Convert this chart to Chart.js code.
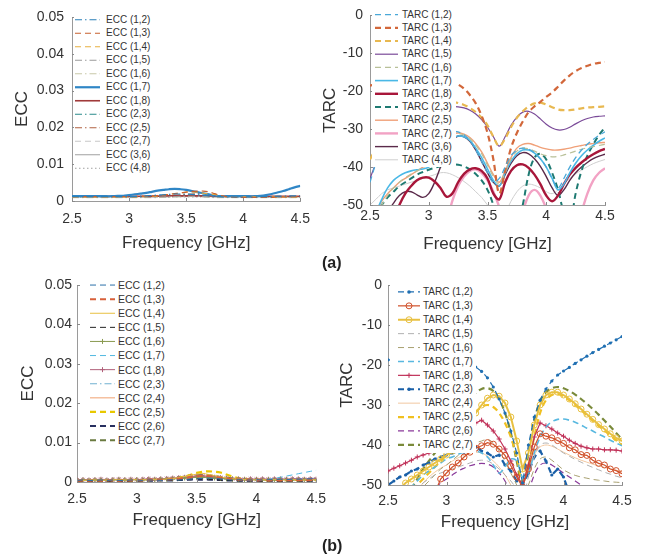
<!DOCTYPE html>
<html>
<head>
<meta charset="utf-8">
<script src="https://cdn.jsdelivr.net/npm/chart.js@4.4.1/dist/chart.umd.min.js"></script>
<style>
html, body { margin: 0; padding: 0; background: #fff; }
#wrap { position: relative; width: 649px; height: 559px; overflow: hidden; font-family: "Liberation Sans", Arial, sans-serif; }
canvas { position: absolute; }
.lg { position: absolute; background: #fff; z-index: 2; color: #333; }
.lg svg { position: absolute; left: 0; top: 0; }
.lg span { position: absolute; white-space: nowrap; }
.tag { position: absolute; font-weight: bold; font-size: 16px; color: #222; }
</style>
</head>
<body>
<div id="wrap">
  <canvas id="c1" width="320" height="262" style="left:0;top:0"></canvas>
  <canvas id="c2" width="334" height="262" style="left:315px;top:0"></canvas>
  <canvas id="c3" width="335" height="297" style="left:0;top:262px"></canvas>
  <canvas id="c4" width="319" height="297" style="left:330px;top:262px"></canvas>
  <div class="lg" id="lg1"></div>
  <div class="lg" id="lg2"></div>
  <div class="lg" id="lg3"></div>
  <div class="lg" id="lg4"></div>
  <div class="tag" style="left:322px;top:254px">(a)</div>
  <div class="tag" style="left:322px;top:537px">(b)</div>
</div>
<script>
// frequency grid (GHz)
const freq = [2.5,2.55,2.6,2.65,2.7,2.75,2.8,2.85,2.9,2.95,3,3.05,3.1,3.15,3.2,3.25,3.3,3.35,3.4,3.45,3.5,3.55,3.6,3.65,3.7,3.75,3.8,3.85,3.9,3.95,4,4.05,4.1,4.15,4.2,4.25,4.3,4.35,4.4,4.45,4.5];
const freqTicks = [2.5, 3, 3.5, 4, 4.5];
const eccTicks = [0, 0.01, 0.02, 0.03, 0.04, 0.05];
const tarcTicks = [-50, -40, -30, -20, -10, 0];

// (a) ECC
const eccALabels = ['ECC (1,2)','ECC (1,3)','ECC (1,4)','ECC (1,5)','ECC (1,6)','ECC (1,7)','ECC (1,8)','ECC (2,3)','ECC (2,5)','ECC (2,7)','ECC (3,6)','ECC (4,8)'];
const ea12 = [0.0012,0.0012,0.0012,0.0012,0.0012,0.0012,0.0012,0.0012,0.0012,0.0012,0.0012,0.0012,0.0013,0.0014,0.0015,0.0016,0.0017,0.0018,0.0019,0.0019,0.0019,0.0018,0.0017,0.0016,0.0014,0.0013,0.0012,0.0011,0.0011,0.0011,0.0011,0.0011,0.0011,0.0012,0.0012,0.0012,0.0013,0.0013,0.0014,0.0014,0.0015];
const ea13 = [0.0012,0.0012,0.0012,0.0012,0.0012,0.0012,0.0012,0.0012,0.0012,0.0012,0.0012,0.0012,0.0013,0.0013,0.0014,0.0015,0.0016,0.0018,0.002,0.0022,0.0024,0.0026,0.0027,0.0027,0.0025,0.002,0.0015,0.0012,0.0011,0.001,0.001,0.001,0.001,0.001,0.001,0.001,0.0011,0.0011,0.0011,0.0012,0.0012];
const ea14 = [0.0011,0.0011,0.0011,0.0011,0.0011,0.0011,0.0011,0.0011,0.0011,0.0011,0.0011,0.0011,0.0012,0.0012,0.0013,0.0014,0.0016,0.0018,0.002,0.0022,0.0024,0.0025,0.0024,0.0021,0.0019,0.0018,0.0014,0.0012,0.0011,0.0011,0.0011,0.0011,0.0011,0.0011,0.0011,0.0011,0.0011,0.0011,0.0011,0.0011,0.0011];
const ea15 = [0.001,0.001,0.001,0.001,0.001,0.001,0.001,0.001,0.001,0.001,0.001,0.001,0.001,0.001,0.001,0.0011,0.0011,0.0012,0.0012,0.0013,0.0013,0.0013,0.0013,0.0012,0.0011,0.001,0.001,0.001,0.001,0.001,0.001,0.001,0.001,0.001,0.001,0.001,0.001,0.001,0.001,0.001,0.001];
const ea16 = [0.0009,0.0009,0.0009,0.0009,0.0009,0.0009,0.0009,0.0009,0.0009,0.0009,0.0009,0.0009,0.0009,0.0009,0.0009,0.0009,0.001,0.001,0.0011,0.0011,0.0012,0.0012,0.0012,0.0011,0.001,0.0009,0.0009,0.0009,0.0009,0.0009,0.0009,0.0009,0.0009,0.0009,0.0009,0.0009,0.0009,0.0009,0.0009,0.0009,0.0009];
const ea17 = [0.0013,0.0013,0.0013,0.0013,0.0013,0.0013,0.0013,0.0013,0.0014,0.0014,0.0016,0.0018,0.002,0.0022,0.0025,0.0028,0.003,0.0032,0.0033,0.0032,0.003,0.0027,0.0024,0.0021,0.0018,0.0015,0.0013,0.0013,0.0013,0.0013,0.0013,0.0013,0.0013,0.0014,0.0016,0.0019,0.0023,0.0027,0.0032,0.0037,0.0041];
const ea18 = [0.0013,0.0013,0.0013,0.0013,0.0013,0.0013,0.0013,0.0013,0.0013,0.0013,0.0013,0.0013,0.0013,0.0013,0.0013,0.0013,0.0013,0.0014,0.0014,0.0014,0.0014,0.0014,0.0014,0.0014,0.0014,0.0013,0.0013,0.0013,0.0013,0.0013,0.0013,0.0013,0.0013,0.0013,0.0013,0.0013,0.0013,0.0013,0.0013,0.0013,0.0013];
const ea23 = [0.0011,0.0011,0.0011,0.0011,0.0011,0.0011,0.0011,0.0011,0.0011,0.0011,0.0011,0.0011,0.0011,0.0011,0.0012,0.0012,0.0013,0.0013,0.0014,0.0015,0.0016,0.0016,0.0016,0.0015,0.0014,0.0012,0.0011,0.0011,0.0011,0.0011,0.0011,0.0011,0.0011,0.0011,0.0011,0.0011,0.0011,0.0011,0.0011,0.0011,0.0011];
const ea25 = [0.0012,0.0012,0.0012,0.0012,0.0012,0.0012,0.0012,0.0012,0.0012,0.0012,0.0012,0.0012,0.0012,0.0012,0.0013,0.0013,0.0014,0.0015,0.0016,0.0017,0.0018,0.0019,0.002,0.002,0.0018,0.0015,0.0013,0.0012,0.0012,0.0012,0.0012,0.0012,0.0012,0.0012,0.0012,0.0012,0.0012,0.0012,0.0012,0.0012,0.0012];
const ea27 = [0.001,0.001,0.001,0.001,0.001,0.001,0.001,0.001,0.001,0.001,0.001,0.001,0.001,0.001,0.001,0.001,0.001,0.0011,0.0011,0.0012,0.0012,0.0012,0.0012,0.0011,0.0011,0.001,0.001,0.001,0.001,0.001,0.001,0.001,0.001,0.001,0.001,0.001,0.001,0.001,0.001,0.001,0.001];
const ea36 = [0.0011,0.0011,0.0011,0.0011,0.0011,0.0011,0.0011,0.0011,0.0011,0.0011,0.0011,0.0011,0.0012,0.0012,0.0013,0.0014,0.0015,0.0015,0.0015,0.0015,0.0014,0.0014,0.0013,0.0013,0.0012,0.0011,0.0011,0.0011,0.0011,0.0011,0.0011,0.0011,0.0011,0.0011,0.0011,0.0011,0.0011,0.0011,0.0011,0.0011,0.0011];
const ea48 = [0.001,0.001,0.001,0.001,0.001,0.001,0.001,0.001,0.001,0.001,0.001,0.001,0.001,0.001,0.001,0.001,0.001,0.001,0.0011,0.0011,0.0011,0.0011,0.0011,0.0011,0.0011,0.001,0.001,0.001,0.001,0.001,0.001,0.001,0.001,0.001,0.001,0.001,0.001,0.001,0.001,0.001,0.001];

// (a) TARC
const tarcALabels = ['TARC (1,2)','TARC (1,3)','TARC (1,4)','TARC (1,5)','TARC (1,6)','TARC (1,7)','TARC (1,8)','TARC (2,3)','TARC (2,5)','TARC (2,7)','TARC (3,6)','TARC (4,8)'];
const ta12 = [-44,-39,-35,-32.5,-30.8,-29.8,-29.2,-28.8,-28.6,-28.5,-28.6,-28.9,-29.4,-30,-30.5,-30.7,-31.5,-33,-35.5,-38.5,-41.5,-44,-43,-40,-37,-35.5,-35,-35.3,-36.2,-37.8,-40,-43,-45.5,-43,-40,-37.5,-35.5,-34,-32.7,-31.6,-30.7];
const ta13 = [-18.5,-18.2,-18,-17.8,-17.6,-17.5,-17.3,-17.2,-17.1,-17,-17,-17,-17,-17.2,-17.5,-18.2,-19.3,-21,-23.2,-26.5,-31,-38,-47,-41,-35,-31,-28,-25.5,-24,-22.8,-21.5,-20.3,-18.8,-17.2,-15.8,-14.7,-13.9,-13.3,-12.8,-12.5,-12.3];
const ta14 = [-38,-35,-32,-29.5,-27.5,-26,-25,-24.2,-23.6,-23.2,-23,-22.8,-22.7,-22.7,-22.8,-23.1,-23.6,-24.4,-25.5,-27,-29,-32,-34.5,-32.5,-29.5,-27,-25.3,-24,-23.2,-23,-23.5,-24.2,-24.8,-25,-25,-24.8,-24.5,-24.3,-24.2,-24.1,-24];
const ta15 = [-43,-39,-35.5,-32.5,-30.5,-29,-27.8,-26.8,-26,-25.4,-25,-24.6,-24.3,-24.1,-24,-24.1,-24.4,-25,-26,-27.5,-29.5,-32,-34.5,-32,-29,-26.8,-25.5,-25.3,-26,-27.3,-28.7,-29.7,-30.2,-30.1,-29.5,-28.6,-27.8,-27.2,-26.8,-26.6,-26.5];
const ta16 = [-55,-53,-50,-47.5,-45.5,-44,-42.8,-41.8,-41,-40.2,-39,-37,-34.8,-33,-31.8,-31.3,-31.5,-32.5,-34.2,-36.5,-39.5,-42.5,-44.5,-41.5,-38,-35.8,-35,-35.2,-35.8,-36.5,-37,-37.3,-37.2,-36.8,-36.3,-35.8,-35.3,-34.9,-34.6,-34.3,-34];
const ta17 = [-55,-52,-48.5,-45.5,-43.5,-42.3,-41.5,-41,-40.7,-40.5,-40,-38.5,-36,-33.8,-32.3,-31.8,-32,-33,-35,-37.5,-40.5,-43.5,-45,-41.5,-38.5,-36.5,-35.5,-35.5,-36.3,-37.8,-40,-43,-46,-44.5,-41.5,-39,-37,-35.5,-34.3,-33.2,-32.3];
const ta18 = [-60,-60,-60,-58,-54,-50,-47,-45,-43.5,-42.8,-42.8,-43.8,-45.5,-47.8,-47,-44,-41.8,-40.6,-40.3,-41,-43,-47,-48.5,-44,-41,-39.5,-39.3,-40.2,-42,-44.5,-47.5,-49,-47.5,-44.5,-42,-40.2,-38.8,-37.6,-36.6,-35.8,-35.2];
const ta23 = [-55,-52,-50,-48,-46.5,-45,-44,-43,-42,-41.3,-40.7,-40.2,-39.8,-39.5,-39.3,-39.4,-39.8,-40.6,-41.8,-43.5,-46,-50,-55,-58,-58,-56,-50,-42,-37.5,-36.5,-38,-41.5,-46,-52,-55,-47,-41,-37,-34,-31.5,-29.5];
const ta25 = [-55,-52,-49,-47,-45.5,-44,-43,-42,-41,-40,-39,-37,-34.5,-32.5,-31.3,-31,-31.3,-32.2,-33.8,-36,-39,-42,-44,-41,-37.5,-35,-34,-33.8,-34.2,-34.8,-35.2,-35.5,-35.5,-35.3,-35,-34.6,-34.3,-34,-33.8,-33.6,-33.5];
const ta27 = [-60,-60,-60,-60,-60,-60,-60,-60,-60,-60,-60,-60,-60,-55,-49,-45,-42.5,-41,-40.6,-41.5,-43.5,-46.5,-50.5,-55,-60,-60,-52,-47.5,-46,-47.5,-51,-56,-60,-60,-60,-58,-52,-47,-43.5,-41.5,-40.3];
const ta36 = [-60,-58,-55,-52,-49.5,-47.5,-46.5,-46.5,-47.3,-48,-47,-44,-40,-36,-33,-31.8,-32,-33.2,-35.5,-38.5,-41.5,-44,-45,-42,-39,-37,-36.2,-36.5,-37.8,-39.8,-42.5,-45.5,-47.5,-46,-43.5,-41.5,-40,-38.8,-37.8,-37.1,-36.6];
const ta48 = [-50,-48.5,-47,-46,-45.5,-45,-44.5,-44,-43.5,-43,-42.5,-42,-41.5,-41.5,-42,-42.8,-43.8,-45,-46.5,-48,-50,-52,-54,-52,-49,-46.5,-45,-44.5,-44.8,-45.5,-46.5,-47,-46,-44.5,-43,-41.8,-40.8,-39.9,-39.1,-38.5,-38];

// (b) ECC
const eccBLabels = ['ECC (1,2)','ECC (1,3)','ECC (1,4)','ECC (1,5)','ECC (1,6)','ECC (1,7)','ECC (1,8)','ECC (2,3)','ECC (2,4)','ECC (2,5)','ECC (2,6)','ECC (2,7)'];
const eb12 = [0.0004,0.0005,0.0004,0.0004,0.0005,0.0004,0.0005,0.0004,0.0004,0.0005,0.0005,0.0004,0.0005,0.0005,0.0004,0.0005,0.0006,0.0005,0.0006,0.0007,0.0008,0.0009,0.001,0.0009,0.0008,0.0006,0.0005,0.0006,0.0005,0.0005,0.0006,0.0005,0.0006,0.0006,0.0007,0.0006,0.0007,0.0007,0.0008,0.0008,0.0009];
const eb13 = [0.0003,0.0004,0.0003,0.0004,0.0003,0.0004,0.0004,0.0003,0.0004,0.0004,0.0005,0.0004,0.0005,0.0006,0.0005,0.0006,0.0007,0.0008,0.001,0.0012,0.0014,0.0016,0.0015,0.0013,0.0011,0.0009,0.0007,0.0006,0.0005,0.0005,0.0004,0.0005,0.0004,0.0005,0.0004,0.0005,0.0004,0.0005,0.0004,0.0005,0.0004];
const eb14 = [0.0005,0.0004,0.0005,0.0005,0.0004,0.0005,0.0005,0.0006,0.0005,0.0005,0.0006,0.0006,0.0005,0.0007,0.0006,0.0008,0.0009,0.0011,0.0014,0.0017,0.002,0.0022,0.0019,0.0016,0.0013,0.001,0.0008,0.0007,0.0006,0.0006,0.0005,0.0006,0.0005,0.0006,0.0005,0.0005,0.0006,0.0005,0.0005,0.0006,0.0005];
const eb15 = [0.0002,0.0003,0.0002,0.0003,0.0003,0.0002,0.0003,0.0003,0.0002,0.0003,0.0003,0.0003,0.0004,0.0003,0.0004,0.0004,0.0005,0.0005,0.0006,0.0007,0.0008,0.0008,0.0007,0.0006,0.0005,0.0004,0.0004,0.0003,0.0003,0.0003,0.0003,0.0002,0.0003,0.0003,0.0002,0.0003,0.0003,0.0003,0.0002,0.0003,0.0003];
const eb16 = [0.0004,0.0005,0.0004,0.0005,0.0005,0.0004,0.0005,0.0006,0.0005,0.0005,0.0006,0.0005,0.0006,0.0006,0.0007,0.0007,0.0008,0.0009,0.001,0.0011,0.0012,0.0012,0.0011,0.001,0.0009,0.0008,0.0007,0.0006,0.0006,0.0005,0.0006,0.0005,0.0006,0.0005,0.0006,0.0006,0.0005,0.0006,0.0006,0.0005,0.0006];
const eb17 = [0.0004,0.0004,0.0004,0.0005,0.0004,0.0004,0.0005,0.0004,0.0005,0.0005,0.0005,0.0005,0.0005,0.0006,0.0006,0.0006,0.0007,0.0008,0.0009,0.001,0.0011,0.0011,0.001,0.0009,0.0008,0.0007,0.0006,0.0006,0.0006,0.0006,0.0006,0.0006,0.0007,0.0009,0.0012,0.0015,0.0018,0.0021,0.0024,0.0027,0.003];
const eb18 = [0.0005,0.0006,0.0005,0.0006,0.0007,0.0005,0.0006,0.0007,0.0006,0.0007,0.0006,0.0007,0.0008,0.0007,0.0008,0.0009,0.001,0.0011,0.0012,0.0014,0.0015,0.0015,0.0014,0.0012,0.0011,0.001,0.0008,0.0008,0.0007,0.0008,0.0007,0.0008,0.0007,0.0008,0.0008,0.0007,0.0008,0.0008,0.0007,0.0008,0.0008];
const eb23 = [0.0005,0.0005,0.0006,0.0005,0.0005,0.0006,0.0005,0.0005,0.0006,0.0005,0.0006,0.0006,0.0006,0.0006,0.0007,0.0007,0.0008,0.0009,0.001,0.0011,0.0012,0.0012,0.0011,0.001,0.0009,0.0008,0.0007,0.0006,0.0006,0.0006,0.0006,0.0006,0.0006,0.0007,0.0007,0.0007,0.0008,0.0008,0.0009,0.0009,0.001];
const eb24 = [0.0006,0.0006,0.0006,0.0007,0.0006,0.0006,0.0007,0.0006,0.0006,0.0007,0.0007,0.0006,0.0007,0.0007,0.0008,0.0008,0.0009,0.001,0.0012,0.0014,0.0015,0.0016,0.0015,0.0013,0.0011,0.0009,0.0008,0.0007,0.0007,0.0006,0.0007,0.0006,0.0007,0.0007,0.0006,0.0007,0.0007,0.0006,0.0007,0.0007,0.0007];
const eb25 = [0.0004,0.0004,0.0005,0.0004,0.0004,0.0005,0.0004,0.0005,0.0005,0.0004,0.0005,0.0005,0.0006,0.0006,0.0007,0.0008,0.0009,0.0011,0.0014,0.0018,0.0023,0.0026,0.0027,0.0026,0.0024,0.0019,0.0014,0.001,0.0008,0.0007,0.0006,0.0006,0.0005,0.0006,0.0005,0.0005,0.0006,0.0005,0.0005,0.0006,0.0005];
const eb26 = [0.0002,0.0002,0.0003,0.0002,0.0002,0.0003,0.0002,0.0003,0.0002,0.0003,0.0003,0.0003,0.0003,0.0003,0.0004,0.0004,0.0004,0.0005,0.0005,0.0006,0.0006,0.0006,0.0006,0.0005,0.0005,0.0004,0.0004,0.0003,0.0003,0.0003,0.0003,0.0003,0.0003,0.0003,0.0003,0.0003,0.0003,0.0003,0.0003,0.0003,0.0003];
const eb27 = [0.0004,0.0004,0.0004,0.0005,0.0004,0.0004,0.0005,0.0005,0.0004,0.0005,0.0005,0.0005,0.0006,0.0006,0.0007,0.0008,0.0009,0.0011,0.0013,0.0015,0.0017,0.0018,0.0017,0.0015,0.0013,0.0011,0.0009,0.0007,0.0006,0.0006,0.0005,0.0005,0.0005,0.0005,0.0005,0.0005,0.0005,0.0005,0.0005,0.0005,0.0005];

// (b) TARC
const tarcBLabels = ['TARC (1,2)','TARC (1,3)','TARC (1,4)','TARC (1,5)','TARC (1,6)','TARC (1,7)','TARC (1,8)','TARC (2,3)','TARC (2,4)','TARC (2,5)','TARC (2,6)','TARC (2,7)'];
const tb12 = [-18.7,-18.8,-18.8,-18.9,-19,-19,-19.1,-19.2,-19.2,-19.3,-19.4,-19.5,-19.6,-19.7,-19.8,-20.5,-21.6,-23.2,-25.5,-28.5,-32,-36.5,-42,-49.5,-40,-33,-28.8,-26,-24,-22.5,-21.5,-20.6,-19.6,-18.7,-17.8,-16.9,-16.1,-15.3,-14.5,-13.7,-12.9];
const tb13 = [-62,-62,-62,-62,-62,-62,-62,-58,-52,-48.5,-47,-45.5,-44.5,-43,-41.8,-40.8,-40.2,-39.4,-39.8,-41,-42.6,-45.2,-48,-50.5,-46,-40.5,-37.2,-37.8,-38.2,-38.9,-39.6,-40.7,-41.2,-42.4,-42.6,-43.8,-44.6,-45,-46,-46.4,-47.2];
const tb14 = [-58,-55,-51,-49.5,-48.5,-47.5,-46.5,-45.5,-44.5,-43.5,-42.5,-41.5,-40,-38,-35,-32,-30,-28.3,-27.5,-27.8,-29.5,-33,-39,-46,-42,-35,-30,-27.5,-26.8,-26.8,-27.5,-28.5,-29.7,-31,-32.3,-33.6,-34.9,-36,-37.2,-38.2,-39];
const tb15 = [-62,-60,-57,-55,-53,-51,-49.5,-48.5,-47.5,-47,-46.5,-46,-45.5,-45,-44.5,-44,-43.8,-44,-44.8,-46,-47.5,-49,-51,-53,-48,-43,-40,-39.5,-40,-41,-42,-42.8,-43.6,-44.3,-45,-45.6,-46.2,-46.8,-47.3,-47.8,-48.2];
const tb16 = [-62,-60,-58,-56,-54,-52,-50.5,-49,-47.5,-46,-45,-43.8,-42.6,-41.5,-40.5,-39.5,-39,-38.6,-39.5,-41.5,-44,-47,-50,-53,-50,-46,-43.5,-43,-43.8,-45,-46.2,-47,-47.6,-48,-48.3,-48.6,-48.8,-49,-49.2,-49.3,-49.4];
const tb17 = [-62,-58,-55,-52,-50.5,-49,-47.5,-46.5,-45.5,-44.5,-43.5,-43,-42.3,-41.8,-41.5,-41.5,-42,-43,-45,-47,-45.5,-43.5,-44,-48,-47,-42,-38,-35.5,-34.2,-33.6,-33.5,-33.8,-34.3,-35,-35.8,-36.5,-37.3,-38,-38.8,-39.5,-40.2];
const tb18 = [-46.5,-45.8,-45.2,-44.5,-43.8,-43,-42.5,-42,-41.3,-40.8,-40.2,-39.5,-38.8,-37.5,-36,-34.5,-33.8,-35,-36.5,-38.5,-41,-44,-47.5,-50,-45,-38,-34.5,-35.2,-36,-37,-37.8,-38.8,-39.6,-40.3,-40.7,-41,-41,-41.2,-41.2,-41.3,-41.5];
const tb23 = [-50,-49,-48,-47.5,-46.5,-46,-45,-44.5,-43.5,-43,-42.5,-42,-41.5,-41.8,-41,-40.5,-41.5,-42,-43,-42.5,-45,-46.5,-49,-50,-47,-43,-41.5,-44,-47.5,-46,-48,-52,-62,-62,-62,-62,-62,-62,-62,-62,-62];
const tb24 = [-62,-62,-60,-57,-54,-51.5,-49.5,-48,-46.8,-45.8,-45,-44,-43.2,-42.5,-42,-41.8,-42,-42.8,-44,-45.5,-47.5,-50,-53,-50,-46,-42.5,-40.5,-40,-40.3,-41,-41.8,-42.5,-43.2,-43.8,-44.3,-44.8,-45.2,-45.6,-46,-46.3,-46.6];
const tb25 = [-62,-60,-57,-54,-52,-50,-48.5,-47,-45.5,-44,-42.5,-41,-39,-36.5,-34,-31.8,-30.5,-30,-30.5,-32,-34.5,-38,-43,-49,-45,-38,-32,-28.8,-27.5,-27.3,-27.8,-28.8,-30,-31.3,-32.6,-33.9,-35.2,-36.4,-37.6,-38.8,-40];
const tb26 = [-62,-62,-62,-60,-58,-56,-54,-52.5,-51,-49.5,-48.5,-47.5,-46.5,-45.8,-45.2,-44.8,-44.6,-44.8,-45.5,-47,-49,-52,-56,-58,-52,-47.5,-45,-44.5,-45,-46,-47,-48,-49,-50,-51,-52,-53,-54,-55,-56,-57];
const tb27 = [-62,-60,-57,-54,-51,-48.5,-46,-44,-42,-40,-38,-36,-33,-30.5,-28.5,-27,-26,-25.8,-26.5,-28.5,-32,-37,-44,-50,-42,-34,-29,-26.8,-25.8,-25.5,-25.8,-26.5,-27.4,-28.5,-29.7,-31,-32.4,-33.9,-35.4,-37,-38.6];

// line styles (order matches the label lists)
const DASH = [6, 4], DDOT = [7, 3, 1.5, 3], DOT = [1.5, 2.5], SOLID = [];
const eccAStyle = [
  { color: '#2a7fb8', width: 1.2, dash: DDOT },
  { color: '#c8602e', width: 1.2, dash: DASH },
  { color: '#e8b040', width: 1.2, dash: DASH },
  { color: '#9a9a9a', width: 1, dash: DDOT },
  { color: '#c8c8a8', width: 1, dash: DDOT },
  { color: '#2f86c6', width: 2.2, dash: SOLID },
  { color: '#a03a3a', width: 1.6, dash: SOLID },
  { color: '#2a8a8a', width: 1, dash: DDOT },
  { color: '#b06040', width: 1, dash: DDOT },
  { color: '#c8c8c8', width: 1.2, dash: DASH },
  { color: '#a0a0a0', width: 1, dash: SOLID },
  { color: '#a0a0a0', width: 1, dash: DOT }
];
const tarcAStyle = [
  { color: '#4aa8d8', width: 1.3, dash: DASH },
  { color: '#d2673a', width: 2.2, dash: DASH },
  { color: '#e8b850', width: 2.2, dash: DASH },
  { color: '#7a4a98', width: 1.2, dash: SOLID },
  { color: '#b8c098', width: 1.2, dash: DASH },
  { color: '#4ab8e6', width: 1.6, dash: SOLID },
  { color: '#a8163a', width: 2.4, dash: SOLID },
  { color: '#1e7a72', width: 2, dash: DASH },
  { color: '#f0a078', width: 1.4, dash: SOLID },
  { color: '#f2a2c4', width: 2.4, dash: SOLID },
  { color: '#5a2a4a', width: 1.4, dash: SOLID },
  { color: '#cfcfcf', width: 1, dash: SOLID }
];
const eccBStyle = [
  { color: '#2a6fa8', width: 1, dash: DASH },
  { color: '#d8603a', width: 2, dash: DASH },
  { color: '#e8c040', width: 1, dash: SOLID },
  { color: '#222222', width: 1, dash: DASH },
  { color: '#8a9a50', width: 1, dash: SOLID, marker: 'cross' },
  { color: '#50b8e0', width: 1, dash: DASH },
  { color: '#b0607a', width: 1, dash: SOLID, marker: 'star' },
  { color: '#70b0d0', width: 1, dash: DDOT },
  { color: '#f0a070', width: 1, dash: SOLID },
  { color: '#e8c800', width: 2.2, dash: DASH },
  { color: '#283060', width: 2, dash: DASH },
  { color: '#6a7a40', width: 2, dash: DASH }
];
const tarcBStyle = [
  { color: '#1f6fb2', width: 1.2, dash: DASH, marker: 'dot' },
  { color: '#d0502a', width: 1.2, dash: SOLID, marker: 'ring' },
  { color: '#e8c040', width: 2, dash: SOLID, marker: 'ring' },
  { color: '#b0b0b0', width: 1, dash: DASH },
  { color: '#a8a070', width: 1, dash: DASH },
  { color: '#58b8e0', width: 1.6, dash: DASH },
  { color: '#c03058', width: 1.2, dash: SOLID, marker: 'cross' },
  { color: '#1a60a8', width: 2.2, dash: DASH, marker: 'dot' },
  { color: '#f2c8a0', width: 1, dash: SOLID },
  { color: '#f0c020', width: 2.2, dash: DASH },
  { color: '#8a3a9a', width: 1.2, dash: DASH },
  { color: '#7a8a3a', width: 2.2, dash: DASH }
];

Chart.defaults.font.family = '"Liberation Sans", Arial, sans-serif';
Chart.defaults.color = '#333';

// small inward ticks, like the original axes
const inTicks = {
  id: 'inTicks',
  afterDatasetsDraw(chart) {
    const { ctx, scales: { x, y } } = chart;
    ctx.save();
    ctx.strokeStyle = '#8a8a8a';
    ctx.lineWidth = 1;
    x.ticks.forEach(t => {
      const px = Math.round(x.getPixelForValue(t.value)) + 0.5;
      ctx.beginPath(); ctx.moveTo(px, y.bottom); ctx.lineTo(px, y.bottom - 3); ctx.stroke();
    });
    y.ticks.forEach(t => {
      const py = Math.round(y.getPixelForValue(t.value)) + 0.5;
      ctx.beginPath(); ctx.moveTo(x.left, py); ctx.lineTo(x.left + 3, py); ctx.stroke();
    });
    ctx.restore();
  }
};

function toDatasets(labels, arrays, styles) {
  return arrays.map((arr, i) => {
    const s = styles[i];
    const ds = {
      label: labels[i],
      data: freq.map((f, k) => ({ x: f, y: arr[k] })),
      borderColor: s.color,
      borderWidth: s.width,
      borderDash: s.dash,
      pointRadius: 0,
      tension: s.marker ? 0 : 0.35,
      fill: false
    };
    if (s.marker === 'dot') { ds.pointRadius = 1.6; ds.pointStyle = 'circle'; ds.pointBackgroundColor = s.color; ds.pointBorderWidth = 0; }
    if (s.marker === 'ring') { ds.pointRadius = 3; ds.pointStyle = 'circle'; ds.pointBackgroundColor = 'rgba(255,255,255,0)'; ds.pointBorderColor = s.color; ds.pointBorderWidth = 1; }
    if (s.marker === 'cross') { ds.pointRadius = 2.5; ds.pointStyle = 'cross'; ds.pointBorderColor = s.color; ds.pointBorderWidth = 1; }
    if (s.marker === 'star') { ds.pointRadius = 2.5; ds.pointStyle = 'star'; ds.pointBorderColor = s.color; ds.pointBorderWidth = 1; }
    return ds;
  });
}

function makeChart(id, cfg) {
  const canvas = document.getElementById(id);
  const cl = parseFloat(canvas.style.left), ct = parseFloat(canvas.style.top);
  const [L, T, R, B] = cfg.plot;
  const yW = L - cl, xH = ct + canvas.height - B;
  return new Chart(canvas, {
    type: 'line',
    data: { datasets: cfg.datasets },
    options: {
      responsive: false, animation: false, devicePixelRatio: 1,
      layout: { padding: { left: 0, top: T - ct, right: cl + canvas.width - R, bottom: 0 } },
      plugins: { legend: { display: false }, tooltip: { enabled: false } },
      scales: {
        x: {
          type: 'linear', min: 2.5, max: 4.5,
          afterBuildTicks: s => { s.ticks = freqTicks.map(v => ({ value: v })); },
          afterFit: s => { s.height = xH; },
          grid: { display: false, drawTicks: false },
          border: { display: true, color: '#9a9a9a', width: 1 },
          ticks: { padding: cfg.xTickPad, font: { size: 14 }, maxRotation: 0, callback: v => String(v) },
          title: { display: true, text: 'Frequency [GHz]', font: { size: 17 }, padding: { top: 0, bottom: cfg.xTitlePad } }
        },
        y: {
          type: 'linear', min: cfg.yMin, max: cfg.yMax,
          afterBuildTicks: s => { s.ticks = cfg.yTicks.map(v => ({ value: v })); },
          afterFit: s => { s.width = yW; },
          grid: { display: false, drawTicks: false },
          border: { display: true, color: '#9a9a9a', width: 1 },
          ticks: { padding: cfg.yTickPad, font: { size: 14 }, callback: v => String(v) },
          title: { display: true, text: cfg.yTitle, font: { size: 17 }, padding: { top: cfg.yTitlePad, bottom: 0 } }
        }
      }
    },
    plugins: [inTicks]
  });
}

function svgDash(d) { return d.length ? ` stroke-dasharray="${d.join(',')}"` : ''; }

function buildLegend(id, labels, styles, box) {
  const el = document.getElementById(id);
  const h = box.rowH * labels.length + 2;
  el.style.left = box.left + 'px';
  el.style.top = box.top + 'px';
  el.style.width = box.width + 'px';
  el.style.height = h + 'px';
  el.style.fontSize = box.font + 'px';
  let svg = `<svg width="${box.width}" height="${h}">`;
  let spans = '';
  labels.forEach((lab, i) => {
    const s = styles[i];
    const cy = 1 + box.rowH * i + box.rowH / 2;
    const x0 = box.sampleX, x1 = box.sampleX + box.sampleW, xm = (x0 + x1) / 2;
    svg += `<line x1="${x0}" y1="${cy}" x2="${x1}" y2="${cy}" stroke="${s.color}" stroke-width="${s.width}"${svgDash(s.dash)}/>`;
    if (s.marker === 'dot') svg += `<circle cx="${xm}" cy="${cy}" r="1.8" fill="${s.color}"/>`;
    if (s.marker === 'ring') svg += `<circle cx="${xm}" cy="${cy}" r="3" fill="none" stroke="${s.color}" stroke-width="1"/>`;
    if (s.marker === 'cross' || s.marker === 'star') svg += `<path d="M${xm - 2.5} ${cy}H${xm + 2.5}M${xm} ${cy - 2.5}V${cy + 2.5}" stroke="${s.color}" stroke-width="1"/>`;
    spans += `<span style="left:${box.textX}px;top:${cy - box.font * 0.58}px">${lab}</span>`;
  });
  svg += '</svg>';
  el.innerHTML = svg + spans;
}

makeChart('c1', {
  plot: [72, 17, 302, 201], yMin: 0, yMax: 0.05, yTicks: eccTicks, yTitle: 'ECC',
  xTickPad: 10, xTitlePad: 8, yTickPad: 8, yTitlePad: 12,
  datasets: toDatasets(eccALabels, [ea12, ea13, ea14, ea15, ea16, ea17, ea18, ea23, ea25, ea27, ea36, ea48], eccAStyle)
});
makeChart('c2', {
  plot: [370, 15, 605, 205], yMin: -50, yMax: 0, yTicks: tarcTicks, yTitle: 'TARC',
  xTickPad: 3, xTitlePad: 7, yTickPad: 7, yTitlePad: 5,
  datasets: toDatasets(tarcALabels, [ta12, ta13, ta14, ta15, ta16, ta17, ta18, ta23, ta25, ta27, ta36, ta48], tarcAStyle)
});
makeChart('c3', {
  plot: [77, 285, 320, 482], yMin: 0, yMax: 0.05, yTicks: eccTicks, yTitle: 'ECC',
  xTickPad: 9, xTitlePad: 28, yTickPad: 5, yTitlePad: 18,
  datasets: toDatasets(eccBLabels, [eb12, eb13, eb14, eb15, eb16, eb17, eb18, eb23, eb24, eb25, eb26, eb27], eccBStyle)
});
makeChart('c4', {
  plot: [388, 285, 622, 485], yMin: -50, yMax: 0, yTicks: tarcTicks, yTitle: 'TARC',
  xTickPad: 8, xTitlePad: 26, yTickPad: 6, yTitlePad: 7,
  datasets: toDatasets(tarcBLabels, [tb12, tb13, tb14, tb15, tb16, tb17, tb18, tb23, tb24, tb25, tb26, tb27], tarcBStyle)
});

buildLegend('lg1', eccALabels, eccAStyle, { left: 74, top: 12, width: 82, rowH: 13.5, sampleX: 1, sampleW: 25, textX: 32, font: 10 });
buildLegend('lg2', tarcALabels, tarcAStyle, { left: 372, top: 7, width: 84, rowH: 13.2, sampleX: 3, sampleW: 23, textX: 30, font: 10 });
buildLegend('lg3', eccBLabels, eccBStyle, { left: 80, top: 277, width: 88, rowH: 14.1, sampleX: 10, sampleW: 25, textX: 38, font: 10.5 });
buildLegend('lg4', tarcBLabels, tarcBStyle, { left: 390, top: 284, width: 86, rowH: 13.9, sampleX: 8, sampleW: 22, textX: 33, font: 10 });
</script>
</body>
</html>
